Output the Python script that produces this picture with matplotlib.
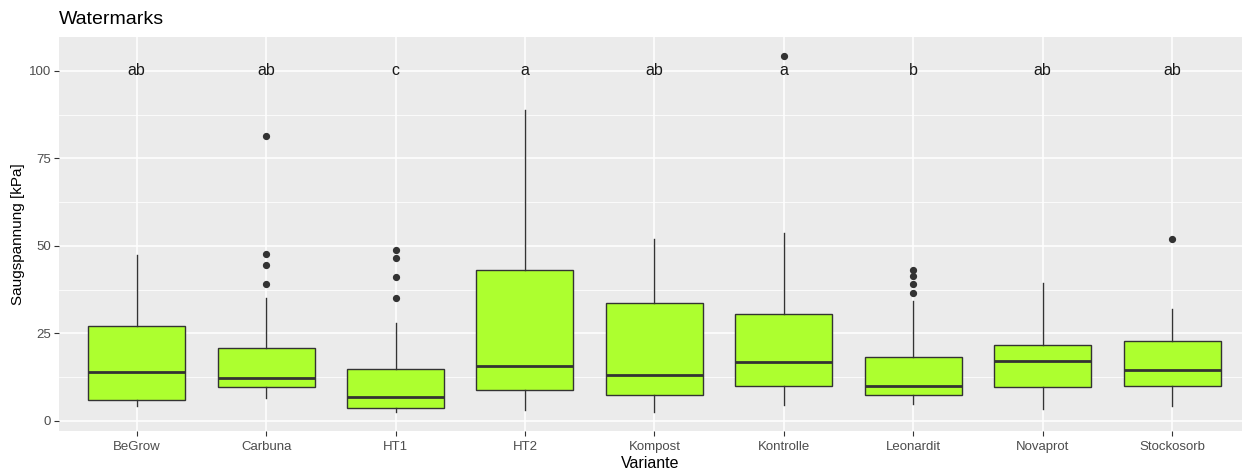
import matplotlib.pyplot as plt
from matplotlib.ticker import MultipleLocator

plt.rcParams['font.family'] = ['Liberation Sans', 'DejaVu Sans']

# values (kPa)
varianten = ["BeGrow", "Carbuna", "HT1", "HT2", "Kompost", "Kontrolle",
             "Leonardit", "Novaprot", "Stockosorb"]
whisker_lo = [4.3, 6.5, 2.4, 3.0, 2.4, 4.6, 4.8, 3.3, 4.2]
q1 = [5.9, 9.6, 3.7, 8.8, 7.4, 9.9, 7.4, 9.6, 9.9]
median = [14.1, 12.3, 6.7, 15.6, 13.1, 16.9, 10.1, 17.0, 14.5]
q3 = [27.2, 20.7, 14.9, 43.0, 33.7, 30.6, 18.2, 21.6, 22.9]
whisker_hi = [47.4, 35.0, 28.1, 88.7, 52.1, 53.6, 34.3, 39.3, 31.9]
outliers = [[], [81.4, 47.7, 44.6, 39.0], [48.7, 46.4, 41.1, 35.2], [], [],
            [104.4], [43.1, 41.5, 39.0, 36.5], [], [52.0]]
letters = ["ab", "ab", "c", "a", "ab", "a", "b", "ab", "ab"]
letter_y = 100

stats = []
for i, name in enumerate(varianten):
    stats.append(dict(label=name, whislo=whisker_lo[i], q1=q1[i], med=median[i],
                      q3=q3[i], whishi=whisker_hi[i], fliers=outliers[i]))

fig = plt.figure(figsize=(12.42, 4.71), dpi=100)
ax = fig.add_axes([59 / 1242, 40 / 471, 1 - 59 / 1242, 394 / 471])
ax.set_facecolor("#EBEBEB")

pos = list(range(1, len(varianten) + 1))
ax.bxp(stats, positions=pos, widths=0.75, patch_artist=True, showcaps=False,
       boxprops=dict(facecolor="#ADFF2F", edgecolor="#333333", linewidth=1.0),
       medianprops=dict(color="#333333", linewidth=2.0),
       whiskerprops=dict(color="#333333", linewidth=1.0),
       flierprops=dict(marker="o", markerfacecolor="#333333", markeredgecolor="#333333",
                       markersize=4.2),
       zorder=3)

for p, lab in zip(pos, letters):
    ax.text(p, letter_y, lab, ha="center", va="center", fontsize=11.5,
            color="#1A1A1A", zorder=4)

ax.set_xlim(0.4, 9.54)
ax.set_ylim(-2.9, 109.7)
ax.set_xticks(pos)
ax.set_xticklabels(varianten)
ax.yaxis.set_major_locator(MultipleLocator(25))
ax.yaxis.set_minor_locator(MultipleLocator(12.5))
ax.set_xticks([p + 0.5 for p in pos[:-1]], minor=True)
ax.xaxis.set_tick_params(which="minor", length=0)
ax.yaxis.set_tick_params(which="minor", length=0)
ax.grid(which="major", color="white", linewidth=1.1, zorder=0)
ax.grid(which="minor", axis="y", color="white", linewidth=0.55, zorder=0)
ax.set_axisbelow(True)
for s in ax.spines.values():
    s.set_visible(False)
ax.tick_params(which="major", length=3.5, width=0.8, color="#333333",
               labelsize=9.5, labelcolor="#4D4D4D", pad=4)
ax.tick_params(axis="y", which="major", pad=2)

ax.set_xlabel("Variante", fontsize=11.5, labelpad=2)
ax.set_ylabel("Saugspannung [kPa]", fontsize=11, labelpad=3)
fig.text(59 / 1242, 1 - 19 / 471, "Watermarks", fontsize=14, va="center", ha="left")

fig.savefig("out.png", dpi=100)
